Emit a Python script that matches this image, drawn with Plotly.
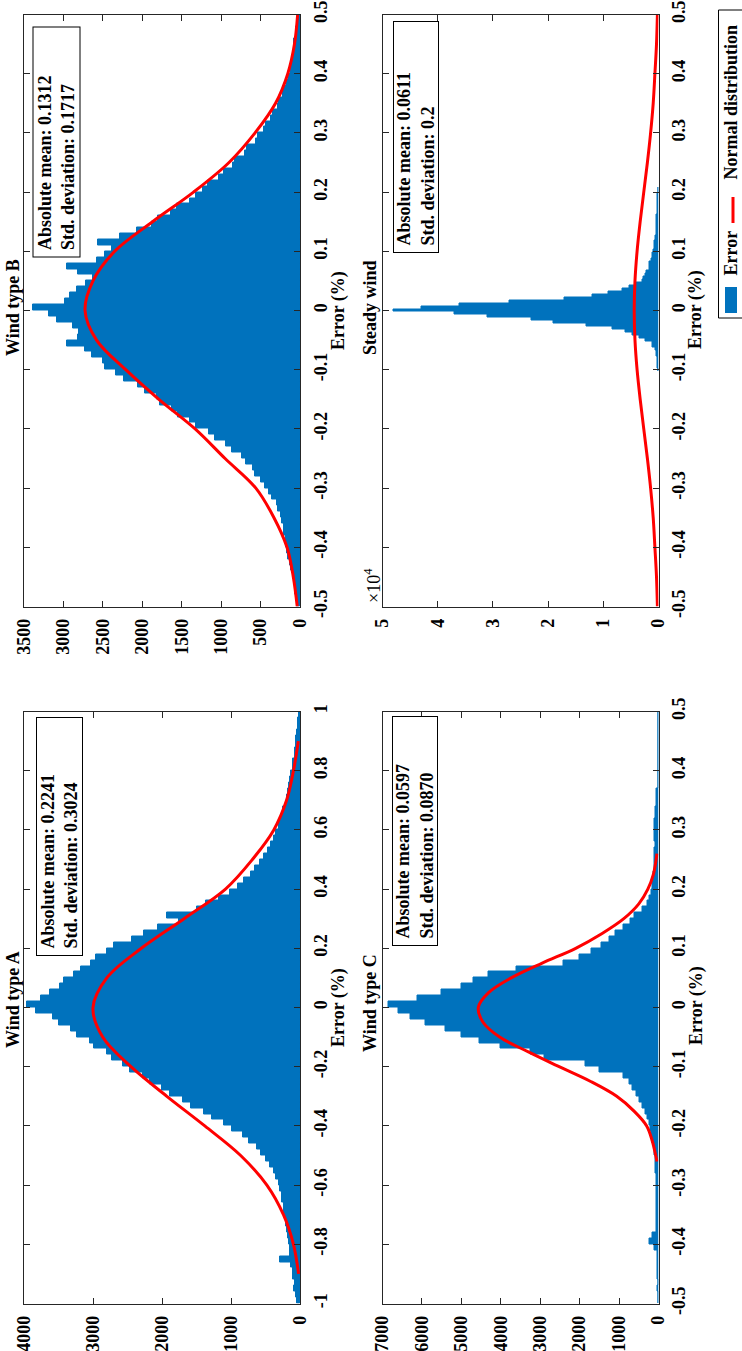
import plotly.graph_objects as go

# ---------------- data ----------------
# Wind type A : histogram (bin width 0.02) and fitted normal curve
a_bin_width = 0.02
a_centers = [round(-0.99 + a_bin_width * i, 2) for i in range(100)]
a_counts = [45, 62, 80, 70, 98, 105, 125, 290, 140, 150,
            165, 170, 195, 200, 210, 230, 238, 260, 268, 295,
            305, 345, 375, 440, 495, 570, 630, 745, 820, 980,
            1100, 1280, 1390, 1580, 1690, 1880, 2000, 2180, 2280, 2470,
            2560, 2730, 2800, 2980, 3050, 3230, 3320, 3500, 3580, 3830,
            3950, 3750, 3620, 3480, 3420, 3280, 3170, 3030, 2960, 2790,
            2700, 2440, 2260, 2060, 1750, 1930, 1500, 1360, 1170, 1010,
            900, 810, 715, 655, 575, 525, 465, 425, 375, 345,
            305, 285, 255, 240, 205, 195, 170, 162, 138, 128,
            108, 98, 78, 72, 58, 52, 38, 30, 24, 15]
a_norm_err = [-0.9, -0.8, -0.7, -0.6, -0.5, -0.4, -0.3, -0.2, -0.1, 0.0,
              0.1, 0.2, 0.3, 0.4, 0.5, 0.6, 0.7, 0.8, 0.9]
a_norm_cnt = [20, 95, 240, 480, 860, 1380, 1930, 2450, 2860, 3000,
              2800, 2300, 1680, 1080, 690, 380, 195, 95, 24]

# Wind type B : histogram (bin width 0.01) and fitted normal curve
b_bin_width = 0.01
b_centers = [round(-0.495 + b_bin_width * i, 3) for i in range(100)]
b_counts = [40, 48, 62, 68, 82, 92, 115, 125, 155, 160,
            178, 182, 198, 205, 230, 240, 275, 295, 355, 395,
            450, 490, 570, 600, 690, 740, 860, 940, 1080, 1160,
            1320, 1400, 1550, 1620, 1770, 1810, 1960, 2050, 2230, 2330,
            2470, 2500, 2640, 2730, 2960, 2820, 2800, 2880, 3080, 3180,
            3380, 2980, 2920, 2830, 2720, 2630, 2820, 2950, 2580, 2470,
            2380, 2560, 2280, 2070, 1880, 1800, 1630, 1560, 1400, 1320,
            1230, 1170, 1030, 970, 850, 820, 700, 670, 560, 530,
            460, 430, 370, 340, 280, 270, 220, 205, 160, 145,
            115, 112, 95, 92, 75, 72, 52, 47, 33, 25]
b_norm_err = [-0.5, -0.45, -0.4, -0.35, -0.3, -0.25, -0.2, -0.15, -0.1, -0.05, 0.0,
              0.05, 0.1, 0.15, 0.2, 0.25, 0.3, 0.35, 0.4, 0.45, 0.5]
b_norm_cnt = [35, 85, 165, 330, 560, 950, 1330, 1790, 2210, 2580, 2726,
              2625, 2350, 1870, 1350, 900, 570, 310, 155, 70, 30]

# Wind type C : histogram (bin width 0.01) and fitted normal curve
c_bin_width = 0.01
c_centers = [round(-0.495 + c_bin_width * i, 3) for i in range(100)]
c_counts = [10, 10, 15, 10, 15, 20, 15, 20, 30, 90,
            220, 150, 60, 40, 45, 40, 50, 45, 55, 50,
            60, 55, 65, 70, 80, 90, 110, 140, 170, 200,
            230, 280, 340, 400, 470, 560, 650, 730, 900, 1500,
            1850, 2900, 3250, 4000, 4550, 5000, 5400, 5900, 6300, 6600,
            6850, 6100, 5500, 5000, 4700, 4300, 3600, 2400, 2000, 1700,
            1450, 1250, 1100, 900, 700, 600, 400, 280, 220, 180,
            160, 140, 130, 110, 100, 90, 90, 85, 90, 95,
            100, 90, 80, 70, 60, 50, 40, 0, 0, 0,
            0, 0, 0, 0, 0, 0, 0, 0, 0, 0]
c_norm_err = [-0.26, -0.25, -0.225, -0.2, -0.175, -0.15, -0.125, -0.1, -0.075, -0.05, -0.025, 0.0,
              0.025, 0.05, 0.075, 0.1, 0.125, 0.15, 0.175, 0.2, 0.225, 0.25, 0.26]
c_norm_cnt = [40, 70, 160, 300, 620, 1060, 1720, 2520, 3300, 4030, 4450, 4570,
              4310, 3735, 2950, 2100, 1430, 880, 500, 270, 130, 60, 40]

# Steady wind : histogram (bin width 0.005) and fitted normal curve
s_bin_width = 0.005
s_centers = [round(-0.1 + s_bin_width * i, 3) for i in range(62)]
s_counts = [80, 100, 120, 150, 250, 400, 450, 500, 1000, 1100,
            2270, 3500, 4700, 6000, 8300, 13000, 19000, 23000, 31000, 37000,
            48000, 43000, 36000, 27000, 17000, 12000, 9000, 6500, 5200, 4200,
            2900, 2800, 2300, 2200, 1700, 1650, 1600, 1300, 1100, 1050,
            900, 780, 760, 700, 600, 500, 420, 380, 360, 350,
            340, 320, 300, 250, 200, 160, 150, 130, 120, 100,
            60, 30]
s_norm_err = [-0.5, -0.45, -0.4, -0.35, -0.3, -0.25, -0.2, -0.15, -0.1, -0.05, 0.0,
              0.05, 0.1, 0.15, 0.2, 0.25, 0.3, 0.35, 0.4, 0.45, 0.5]
s_norm_cnt = [200, 360, 650, 960, 1430, 2010, 2670, 3320, 3880, 4260, 4400,
              4260, 3880, 3320, 2670, 2010, 1430, 960, 650, 360, 200]

# Texts
titles = ["Wind type A", "Wind type B", "Wind type C", "Steady wind"]
abs_means = ["0.2241", "0.1312", "0.0597", "0.0611"]
std_devs = ["0.3024", "0.1717", "0.0870", "0.2"]
err_label = "Error (%)"
legend_labels = ["Error", "Normal distribution"]

# Ticks
a_err_ticks = [-1, -0.8, -0.6, -0.4, -0.2, 0, 0.2, 0.4, 0.6, 0.8, 1]
a_err_labels = ["-1", "-0.8", "-0.6", "-0.4", "-0.2", "0", "0.2", "0.4", "0.6", "0.8", "1"]
h_err_ticks = [-0.5, -0.4, -0.3, -0.2, -0.1, 0, 0.1, 0.2, 0.3, 0.4, 0.5]
h_err_labels = ["-0.5", "-0.4", "-0.3", "-0.2", "-0.1", "0", "0.1", "0.2", "0.3", "0.4", "0.5"]
a_cnt_ticks = [0, 1000, 2000, 3000, 4000]
b_cnt_ticks = [0, 500, 1000, 1500, 2000, 2500, 3000, 3500]
c_cnt_ticks = [0, 1000, 2000, 3000, 4000, 5000, 6000, 7000]
s_cnt_ticks = [0, 10000, 20000, 30000, 40000, 50000]
s_cnt_labels = ["0", "1", "2", "3", "4", "5"]

# ---------------- styling / layout ----------------
W, H = 742, 1351
FONT = "Liberation Serif"
BLUE = "#0072BD"
RED = "#FF0000"
AXC = "#262626"
FS = 18


def fx(px):
    return px / W


def fy(py):
    return 1 - py / H


LEFT = (24, 300)
RIGHT = (382.5, 658.5)
TOP = (14.5, 606.5)
BOTTOM = (711.5, 1303.5)

panels = [
    dict(xa="x", ya="y", xpx=LEFT, ypx=BOTTOM, cmax=4000, cticks=a_cnt_ticks,
         clabels=[str(v) for v in a_cnt_ticks], erng=[-1, 1], eticks=a_err_ticks, elabels=a_err_labels,
         centers=a_centers, counts=a_counts, bw=a_bin_width, nerr=a_norm_err, ncnt=a_norm_cnt,
         title=titles[0], tpos=(13, 1000), epos=(338, 1008),
         mean=abs_means[0], std=std_devs[0], statbox=(36, 83, 717, 956)),
    dict(xa="x2", ya="y2", xpx=LEFT, ypx=TOP, cmax=3500, cticks=b_cnt_ticks,
         clabels=[str(v) for v in b_cnt_ticks], erng=[-0.5, 0.5], eticks=h_err_ticks, elabels=h_err_labels,
         centers=b_centers, counts=b_counts, bw=b_bin_width, nerr=b_norm_err, ncnt=b_norm_cnt,
         title=titles[1], tpos=(13, 308), epos=(338, 311),
         mean=abs_means[1], std=std_devs[1], statbox=(32, 80, 27, 258)),
    dict(xa="x3", ya="y3", xpx=RIGHT, ypx=BOTTOM, cmax=7000, cticks=c_cnt_ticks,
         clabels=[str(v) for v in c_cnt_ticks], erng=[-0.5, 0.5], eticks=h_err_ticks, elabels=h_err_labels,
         centers=c_centers, counts=c_counts, bw=c_bin_width, nerr=c_norm_err, ncnt=c_norm_cnt,
         title=titles[2], tpos=(370, 1003), epos=(696, 1006),
         mean=abs_means[2], std=std_devs[2], statbox=(392, 438, 716, 946)),
    dict(xa="x4", ya="y4", xpx=RIGHT, ypx=TOP, cmax=50000, cticks=s_cnt_ticks,
         clabels=s_cnt_labels, erng=[-0.5, 0.5], eticks=h_err_ticks, elabels=h_err_labels,
         centers=s_centers, counts=s_counts, bw=s_bin_width, nerr=s_norm_err, ncnt=s_norm_cnt,
         title=titles[3], tpos=(370, 308), epos=(696, 310),
         mean=abs_means[3], std=std_devs[3], statbox=(393, 439, 21, 253)),
]

fig = go.Figure()
layout = dict(width=W, height=H, margin=dict(l=0, r=0, t=0, b=0, autoexpand=False),
              paper_bgcolor="white", plot_bgcolor="white", showlegend=False,
              barmode="overlay", bargap=0)

tickfont = dict(family=FONT, size=FS, color="black", weight="bold")
bold = dict(family=FONT, size=FS, color="black", weight="bold")
ann = []

for p in panels:
    fig.add_trace(go.Bar(x=p["counts"], y=p["centers"], orientation="h", width=p["bw"],
                         marker=dict(color=BLUE, line=dict(color=BLUE, width=1)),
                         xaxis=p["xa"], yaxis=p["ya"], hoverinfo="skip", showlegend=False))
    fig.add_trace(go.Scatter(x=p["ncnt"], y=p["nerr"], mode="lines",
                             line=dict(color=RED, width=3, shape="spline", smoothing=1.0),
                             xaxis=p["xa"], yaxis=p["ya"], hoverinfo="skip", showlegend=False))
    xkey = "xaxis" + p["xa"][1:]
    ykey = "yaxis" + p["ya"][1:]
    layout[xkey] = dict(domain=[fx(p["xpx"][0]), fx(p["xpx"][1])], range=[p["cmax"], 0],
                        anchor=p["ya"], side="bottom", tickvals=p["cticks"], ticktext=p["clabels"],
                        tickangle=-90, ticks="inside", ticklen=6, tickwidth=1, tickcolor=AXC,
                        showline=True, linewidth=1, linecolor=AXC, mirror="ticks",
                        showgrid=False, zeroline=False, tickfont=tickfont, ticklabelstandoff=4,
                        automargin=False, fixedrange=True)
    layout[ykey] = dict(domain=[fy(p["ypx"][1]), fy(p["ypx"][0])], range=p["erng"],
                        anchor=p["xa"], side="right", tickvals=p["eticks"], ticktext=p["elabels"],
                        tickangle=-90, ticks="inside", ticklen=6, tickwidth=1, tickcolor=AXC,
                        showline=True, linewidth=1, linecolor=AXC, mirror="ticks",
                        showgrid=False, zeroline=False, tickfont=tickfont, ticklabelstandoff=4,
                        automargin=False, fixedrange=True)

    # panel title (left of the box in this rotated layout)
    tx, ty = p["tpos"]
    ann.append(dict(text=p["title"], x=fx(tx), y=fy(ty), xref="paper", yref="paper",
                    showarrow=False, textangle=-90, xanchor="center", yanchor="middle", font=bold))
    # error axis title
    ex, ey = p["epos"]
    ann.append(dict(text=err_label, x=fx(ex), y=fy(ey), xref="paper", yref="paper",
                    showarrow=False, textangle=-90, xanchor="center", yanchor="middle", font=bold))
    # statistics box
    x0, x1, y0, y1 = p["statbox"]
    ann.append(dict(text="\u00a0Absolute mean: " + p["mean"] + "<br>\u00a0Std. deviation: " + p["std"],
                    x=fx(x0), y=fy(y1), xref="paper", yref="paper", showarrow=False,
                    textangle=-90, xanchor="left", yanchor="bottom", align="left",
                    width=(y1 - y0) - 6, height=(x1 - x0) - 6, borderpad=2, borderwidth=1,
                    bordercolor="black", bgcolor="white", font=bold))

# x10^4 multiplier for steady wind counts
ann.append(dict(text="\u00d710<sup>4</sup>", x=fx(372), y=fy(586), xref="paper", yref="paper",
                showarrow=False, textangle=-90, xanchor="center", yanchor="middle",
                font=dict(family=FONT, size=18, color="black")))

# legend (drawn, rotated)
ann.append(dict(text=legend_labels[0], x=fx(730.5), y=fy(253), xref="paper", yref="paper",
                showarrow=False, textangle=-90, xanchor="center", yanchor="middle", font=bold))
ann.append(dict(text=legend_labels[1], x=fx(730.5), y=fy(102), xref="paper", yref="paper",
                showarrow=False, textangle=-90, xanchor="center", yanchor="middle", font=bold))

shapes = [
    dict(type="rect", xref="paper", yref="paper", x0=fx(718.5), x1=fx(760), y0=fy(318), y1=fy(10),
         line=dict(color="black", width=1), fillcolor="rgba(0,0,0,0)", layer="below"),
    dict(type="rect", xref="paper", yref="paper", x0=fx(725), x1=fx(737), y0=fy(313), y1=fy(287),
         line=dict(width=0), fillcolor=BLUE),
    dict(type="line", xref="paper", yref="paper", x0=fx(733), x1=fx(733), y0=fy(223), y1=fy(197),
         line=dict(color=RED, width=3)),
]

layout["annotations"] = ann
layout["shapes"] = shapes
fig.update_layout(**layout)
fig.write_html("out.html", config={"displayModeBar": False},
               post_script="document.body.style.margin='0px';document.body.style.overflow='hidden';")
